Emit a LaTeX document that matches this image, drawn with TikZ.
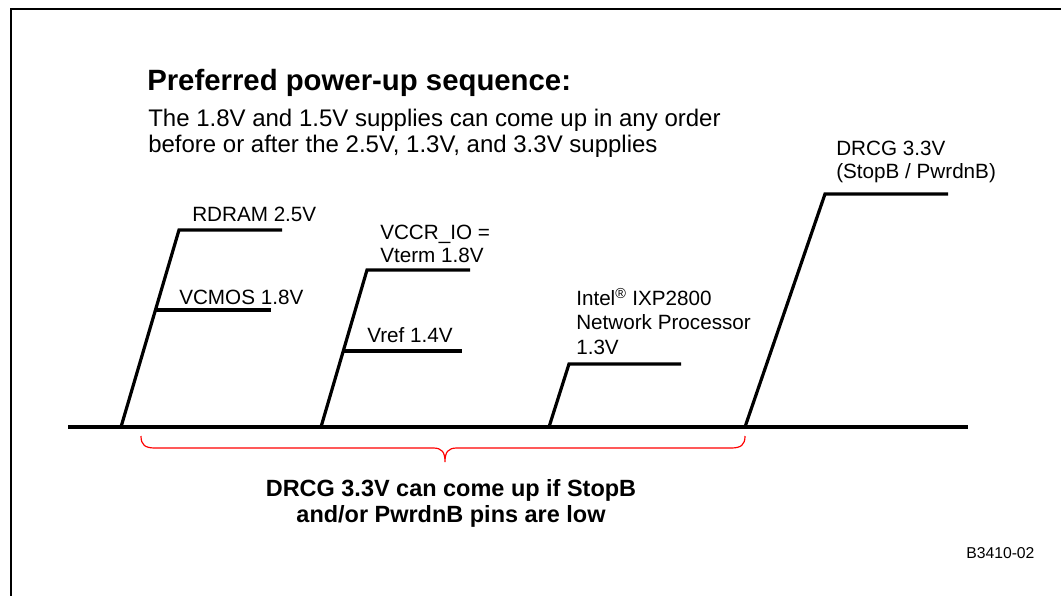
\documentclass[tikz,border=0pt]{standalone}
\usepackage{fontspec}
\setmainfont{Liberation Sans}
\begin{document}
\begin{tikzpicture}[x=0.75pt,y=-0.75pt,
  wire/.style={line width=2.4pt,line join=miter},
  lbl/.style={inner sep=0pt,anchor=base west,font=\fontsize{15.5}{18}\selectfont},
  sub/.style={inner sep=0pt,anchor=base west,font=\fontsize{18}{22}\selectfont},
  note/.style={inner sep=0pt,anchor=base,font=\bfseries\fontsize{17.6}{20}\selectfont},
  brace/.style={draw=red,line width=0.9pt}]
\useasboundingbox (0,0) rectangle (1061,596);
\fill[white] (0,0) rectangle (1061,596);
% frame
\coordinate (fr1) at (1061,9);
\coordinate (fr2) at (11,9);
\coordinate (fr3) at (11,596);
\draw[line width=1.8pt] (fr1) -- (fr2) -- (fr3);
% titles
\node[inner sep=0pt,anchor=base west,font=\bfseries\fontsize{22}{26}\selectfont] (title) at (147,90) {Preferred power-up sequence:};
\node[sub] (sub1) at (148,126) {The 1.8V and 1.5V supplies can come up in any order};
\node[sub] (sub2) at (148,152) {before or after the 2.5V, 1.3V, and 3.3V supplies};
% baseline
\coordinate (b0) at (68,427);
\coordinate (b1) at (968,427);
\draw[wire] (b0) -- (b1);
% ramp 1
\coordinate (r1a) at (121,427);
\coordinate (r1b) at (179,230);
\coordinate (r1c) at (282,230);
\coordinate (v1a) at (155,310);
\coordinate (v1b) at (271,310);
\draw[wire] (r1a) -- (r1b) -- (r1c);
\draw[wire] (v1a) -- (v1b);
\node[lbl] (rdram) at (192,221) {RDRAM 2.5V};
\node[lbl] (vcmos) at (179,304) {VCMOS 1.8V};
% ramp 2
\coordinate (r2a) at (321,427);
\coordinate (r2b) at (367,270);
\coordinate (r2c) at (470,270);
\coordinate (v2a) at (344,351);
\coordinate (v2b) at (462,351);
\draw[wire] (r2a) -- (r2b) -- (r2c);
\draw[wire] (v2a) -- (v2b);
\node[lbl] (vccr) at (380,239) {VCCR\_IO =};
\node[lbl] (vterm) at (380,262) {Vterm 1.8V};
\node[lbl] (vref) at (367,342) {Vref 1.4V};
% ramp 3
\coordinate (r3a) at (549,427);
\coordinate (r3b) at (569,364);
\coordinate (r3c) at (681,364);
\draw[wire] (r3a) -- (r3b) -- (r3c);
\node[lbl] (intel) at (576,305) {Intel\textsuperscript{®} IXP2800};
\node[lbl] (netp) at (576,329) {Network Processor};
\node[lbl] (v13) at (576,354) {1.3V};
% ramp 4
\coordinate (r4a) at (745,427);
\coordinate (r4b) at (825,194);
\coordinate (r4c) at (948,194);
\draw[wire] (r4a) -- (r4b) -- (r4c);
\node[lbl] (drcg) at (836,155) {DRCG 3.3V};
\node[lbl] (stopb) at (836,178) {(StopB / PwrdnB)};
% brace
\coordinate (brl) at (141,436);
\coordinate (brt) at (445,462);
\coordinate (brr) at (745,436);
\draw[brace] (brl) .. controls (141,445) and (145,448) .. (155,448) -- (433,448)
  .. controls (442,448) and (445,452) .. (brt)
  .. controls (445,452) and (448,448) .. (457,448) -- (731,448)
  .. controls (741,448) and (745,445) .. (brr);
\node[note] (n1) at (451,496) {DRCG 3.3V can come up if StopB};
\node[note] (n2) at (451,522) {and/or PwrdnB pins are low};
\node[inner sep=0pt,anchor=base west,font=\fontsize{11.8}{14}\selectfont] (fig) at (966,558) {B3410-02};
\end{tikzpicture}
\end{document}
